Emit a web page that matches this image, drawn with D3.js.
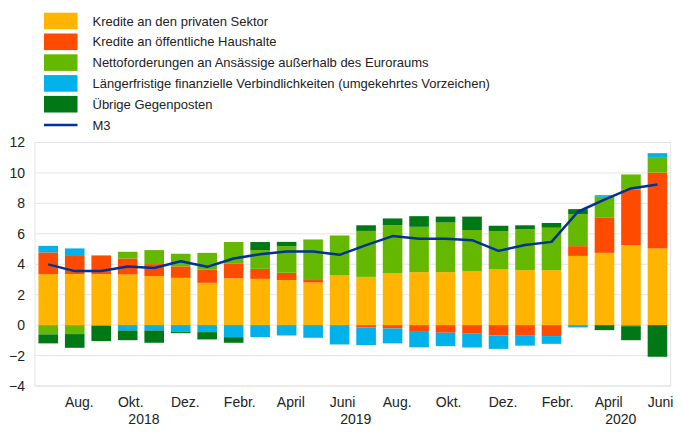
<!DOCTYPE html>
<html>
<head>
<meta charset="utf-8">
<script src="https://cdn.jsdelivr.net/npm/d3@7"></script>
<style>
  body { margin: 0; background: #fff; }
  text { font-family: "Liberation Sans", Arial, sans-serif; fill: #222; }
</style>
</head>
<body>
<div class="chart"></div>
<script>
// monthly categories, July 2018 - June 2020
var months = ["2018-07","2018-08","2018-09","2018-10","2018-11","2018-12",
  "2019-01","2019-02","2019-03","2019-04","2019-05","2019-06",
  "2019-07","2019-08","2019-09","2019-10","2019-11","2019-12",
  "2020-01","2020-02","2020-03","2020-04","2020-05","2020-06"];

// tick labels (every second month) and year labels
var monthTicks = [
  ["2018-08","Aug."],["2018-10","Okt."],["2018-12","Dez."],["2019-02","Febr."],
  ["2019-04","April"],["2019-06","Juni"],["2019-08","Aug."],["2019-10","Okt."],
  ["2019-12","Dez."],["2020-02","Febr."],["2020-04","April"],["2020-06","Juni"]
];
var yearTicks = [["2018-10","2018"],["2019-06","2019"],["2020-04","2020"]];

// series values (percentage points)
var privat      = [3.35,3.35,3.35,3.33,3.22,3.11,2.78,3.07,3.04,2.96,2.80,3.26,3.17,3.40,3.48,3.48,3.53,3.66,3.61,3.61,4.55,4.75,5.26,5.04];
var oeffentlich = [1.43,1.25,1.23,1.05,0.79,0.75,0.88,0.99,0.66,0.48,0.22,-0.05,-0.15,-0.22,-0.39,-0.50,-0.53,-0.68,-0.70,-0.72,0.64,2.30,3.63,4.99];
var netto       = [-0.61,-0.59,-0.05,0.44,0.92,0.83,1.09,1.40,1.23,1.75,2.61,2.63,3.02,3.17,2.98,3.26,2.72,2.50,2.69,2.79,2.10,1.38,1.01,0.96];
var laenger     = [0.43,0.44,0,-0.35,-0.35,-0.44,-0.46,-0.79,-0.79,-0.68,-0.83,-1.22,-1.16,-0.98,-1.07,-0.88,-0.94,-0.88,-0.65,-0.51,-0.15,0.11,-0.07,0.31];
var uebrige     = [-0.59,-0.90,-1.00,-0.64,-0.81,-0.09,-0.48,-0.37,0.53,0.28,0,0,0.37,0.44,0.70,0.39,0.88,0.37,0.26,0.31,0.33,-0.33,-0.92,-2.08];
var m3          = [3.99,3.55,3.55,3.85,3.75,4.20,3.83,4.38,4.66,4.84,4.84,4.62,5.26,5.85,5.67,5.67,5.58,4.88,5.26,5.47,7.45,8.25,8.98,9.24];

var seriesNames = ["Kredite an den privaten Sektor",
  "Kredite an öffentliche Haushalte",
  "Nettoforderungen an Ansässige außerhalb des Euroraums",
  "Längerfristige finanzielle Verbindlichkeiten (umgekehrtes Vorzeichen)",
  "Übrige Gegenposten"];
var seriesValues = [privat, oeffentlich, netto, laenger, uebrige];
var colors = ["#FFB400","#FF4B00","#65B800","#00B1EA","#007816"];
var lineColor = "#003299";

var yTicks = [-4,-2,0,2,4,6,8,10,12];

var svgWidth = 683;
var svgHeight = 435;
var margin = { top: 142.5, right: 12.3, bottom: 49, left: 35 };
var width = svgWidth - margin.left - margin.right;
var height = svgHeight - margin.top - margin.bottom;

var svg = d3.select(".chart")
  .append("svg")
  .attr("width", svgWidth)
  .attr("height", svgHeight);

// build table for the stack layout
var table = months.map(function(m, i) {
  var row = { month: m };
  seriesNames.forEach(function(k, j) { row[k] = seriesValues[j][i]; });
  return row;
});

var stack = d3.stack()
  .keys(seriesNames)
  .offset(d3.stackOffsetDiverging);
var stacked = stack(table);

var x = d3.scaleBand()
  .domain(months)
  .range([0, width])
  .paddingInner(0.26)
  .paddingOuter(0.13);

var y = d3.scaleLinear()
  .domain([-4, 12])
  .range([height, 0]);

var chartGroup = svg.append("g")
  .attr("transform", `translate(${margin.left}, ${margin.top})`);

// grid lines
chartGroup.append("g")
  .selectAll("line")
  .data(yTicks)
  .enter()
  .append("line")
  .attr("x1", 0)
  .attr("x2", width)
  .attr("y1", function(d) { return y(d); })
  .attr("y2", function(d) { return y(d); })
  .attr("stroke", "#e4e4e4")
  .attr("stroke-width", 1);

// frame
chartGroup.append("rect")
  .attr("x", 0)
  .attr("y", 0)
  .attr("width", width)
  .attr("height", height)
  .attr("fill", "none")
  .attr("stroke", "#e4e4e4");

// y axis labels
var yAxis = d3.axisLeft(y).tickValues(yTicks).tickSize(0).tickPadding(10);
chartGroup.append("g")
  .call(yAxis)
  .call(function(g) { g.select(".domain").remove(); })
  .selectAll("text")
  .style("font-size", "14px")
  .style("font-family", "'Liberation Sans', Arial, sans-serif")
  .attr("fill", "#222");

// bars
var layer = chartGroup.selectAll(".layer")
  .data(stacked)
  .enter()
  .append("g")
  .attr("class", "layer")
  .attr("fill", function(d, i) { return colors[i]; });

layer.selectAll("rect")
  .data(function(d) { return d; })
  .enter()
  .append("rect")
  .attr("x", function(d) { return x(d.data.month); })
  .attr("width", x.bandwidth())
  .attr("y", function(d) { return y(Math.max(d[0], d[1])); })
  .attr("height", function(d) { return Math.abs(y(d[0]) - y(d[1])); });

// M3 line
var line = d3.line()
  .x(function(d, i) { return x(months[i]) + x.bandwidth() / 2; })
  .y(function(d) { return y(d); });

chartGroup.append("path")
  .datum(m3)
  .attr("d", line)
  .attr("fill", "none")
  .attr("stroke", lineColor)
  .attr("stroke-width", 2.5)
  .attr("stroke-linejoin", "round");

// x labels
chartGroup.append("g")
  .selectAll("text")
  .data(monthTicks)
  .enter()
  .append("text")
  .attr("x", function(d) { return x(d[0]); })
  .attr("y", height + 21)
  .attr("font-size", "14px")
  .text(function(d) { return d[1]; });

chartGroup.append("g")
  .selectAll("text")
  .data(yearTicks)
  .enter()
  .append("text")
  .attr("x", function(d) { return x(d[0]) + x.step() - (x.step() - x.bandwidth()) / 2 + 3; })
  .attr("y", height + 38)
  .attr("text-anchor", "middle")
  .attr("font-size", "14px")
  .text(function(d) { return d[1]; });

// legend
var legend = svg.append("g")
  .attr("transform", "translate(44, 21)");

var legendItems = legend.selectAll(".item")
  .data(seriesNames.concat(["M3"]))
  .enter()
  .append("g")
  .attr("class", "item")
  .attr("transform", function(d, i) { return `translate(0, ${i * 20.8})`; });

legendItems.each(function(d, i) {
  var g = d3.select(this);
  if (i < seriesNames.length) {
    g.append("rect")
      .attr("x", 0)
      .attr("y", -8.3)
      .attr("width", 33.5)
      .attr("height", 16.6)
      .attr("fill", colors[i]);
  } else {
    g.append("line")
      .attr("x1", 0)
      .attr("x2", 33.5)
      .attr("y1", 0)
      .attr("y2", 0)
      .attr("stroke", lineColor)
      .attr("stroke-width", 2.5);
  }
  g.append("text")
    .attr("x", 48.5)
    .attr("y", 0)
    .attr("dy", "0.35em")
    .attr("font-size", "13px")
    .text(d);
});
</script>
</body>
</html>
